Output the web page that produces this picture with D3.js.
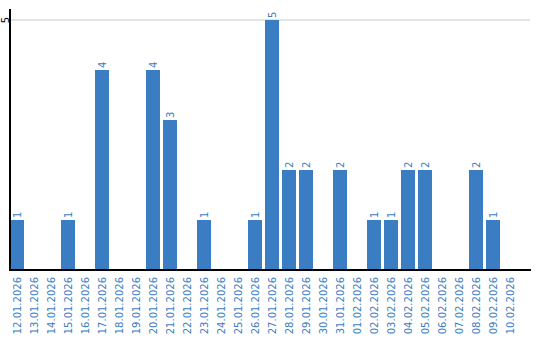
<!DOCTYPE html>
<html>
<head>
<meta charset="utf-8">
<script src="https://cdn.jsdelivr.net/npm/d3@7"></script>
<style>
  body { margin: 0; background: #fff; }
  text { font-family: "DejaVu Sans", Verdana, sans-serif; }
</style>
</head>
<body>
<svg id="chart" width="540" height="340"></svg>
<script>
var dates = ['12.01.2026','13.01.2026','14.01.2026','15.01.2026','16.01.2026','17.01.2026',
    '18.01.2026','19.01.2026','20.01.2026','21.01.2026','22.01.2026','23.01.2026','24.01.2026',
    '25.01.2026','26.01.2026','27.01.2026','28.01.2026','29.01.2026','30.01.2026','31.01.2026',
    '01.02.2026','02.02.2026','03.02.2026','04.02.2026','05.02.2026','06.02.2026','07.02.2026',
    '08.02.2026','09.02.2026','10.02.2026'];
var counts = [1,0,0,1,0,4,0,0,4,3,0,1,0,0,1,5,2,2,0,2,0,1,1,2,2,0,0,2,1,0];
var yTicks = [5];

var blue = '#3b7dc3';
var svg = d3.select('#chart');

var x = d3.scaleBand().domain(dates).range([10, 520]).padding(0);
var y = d3.scaleLinear().domain([0, 5]).range([270, 20]);
var barW = x.bandwidth() * 14 / 17;

// gridline
svg.selectAll('.grid').data(yTicks).enter().append('line')
    .attr('x1', 10).attr('x2', 530)
    .attr('y1', d => y(d)).attr('y2', d => y(d))
    .attr('stroke', '#c8c8c8');

// y tick labels, rotated
svg.selectAll('.ytick').data(yTicks).enter().append('text')
    .attr('transform', d => `translate(5, ${y(d)}) rotate(-90)`)
    .attr('text-anchor', 'middle')
    .attr('dy', '0.35em')
    .attr('font-size', 10)
    .attr('fill', '#000')
    .text(d => d);

// bars
var data = dates.map((d, i) => ({date: d, value: counts[i]}));
svg.selectAll('rect').data(data.filter(d => d.value > 0)).enter().append('rect')
    .attr('x', d => x(d.date))
    .attr('y', d => y(d.value))
    .attr('width', barW)
    .attr('height', d => y(0) - y(d.value))
    .attr('fill', blue);

// value labels
svg.selectAll('.val').data(data.filter(d => d.value > 0)).enter().append('text')
    .attr('transform', d => `translate(${x(d.date) + barW / 2}, ${y(d.value) - 2}) rotate(-90)`)
    .attr('text-anchor', 'start')
    .attr('dy', '0.35em')
    .attr('font-size', 10)
    .attr('fill', blue)
    .text(d => d.value);

// axes lines
svg.append('line').attr('x1', 10).attr('x2', 10).attr('y1', 9).attr('y2', 271)
    .attr('stroke', '#000').attr('stroke-width', 2);
svg.append('line').attr('x1', 9).attr('x2', 531).attr('y1', 270).attr('y2', 270)
    .attr('stroke', '#000').attr('stroke-width', 2);

// x labels
svg.selectAll('.xl').data(dates).enter().append('text')
    .attr('transform', d => `translate(${x(d) + barW / 2}, 277) rotate(-90)`)
    .attr('text-anchor', 'end')
    .attr('dy', '0.35em')
    .attr('font-size', 10)
    .attr('fill', blue)
    .text(d => d);
</script>
</body>
</html>
